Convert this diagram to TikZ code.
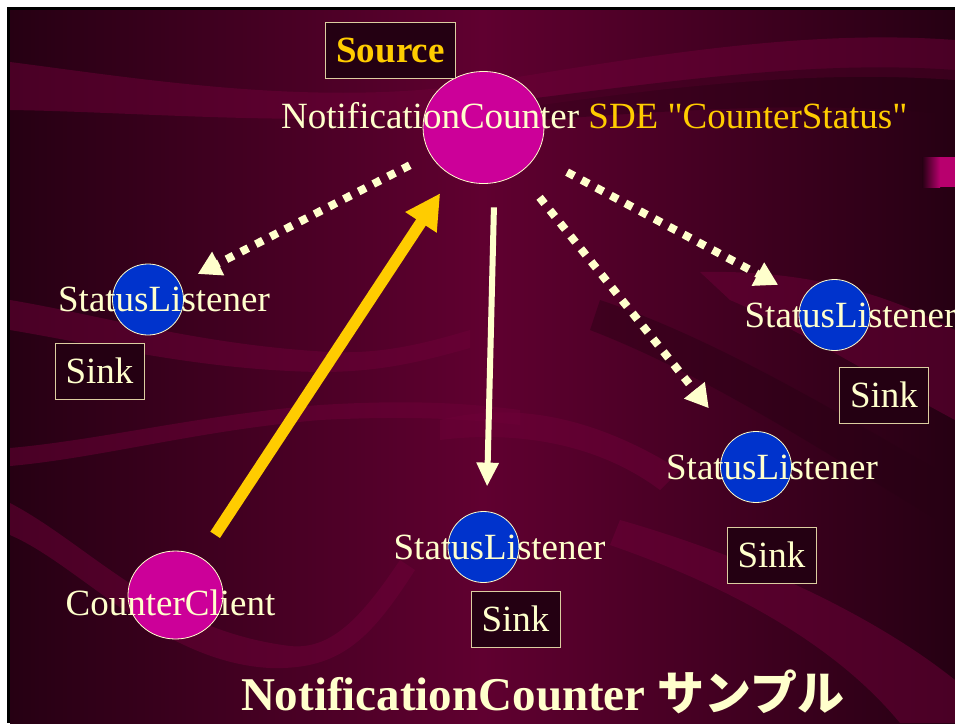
\documentclass[tikz,border=0pt]{standalone}
\usepackage{fontspec}
\setmainfont{Liberation Serif}
\newfontfamily\jpfont{Noto Sans CJK JP}
\usepackage{xcolor}
\definecolor{slidedark}{RGB}{38,0,19}
\definecolor{slidemid}{RGB}{96,0,48}
\definecolor{bandlight}{RGB}{110,0,56}
\definecolor{banddark}{RGB}{40,0,20}
\definecolor{stripmag}{RGB}{184,0,110}
\definecolor{nodemagenta}{RGB}{204,0,153}
\definecolor{nodeblue}{RGB}{0,51,204}
\definecolor{textcream}{RGB}{255,255,204}
\definecolor{textyellow}{RGB}{255,204,0}
\definecolor{boxfill}{RGB}{36,0,18}
\definecolor{boxline}{RGB}{220,205,160}
\newcommand\labelsize{\fontsize{37}{40}\selectfont}
\newcommand\titlesize{\fontsize{47}{50}\selectfont}
\usetikzlibrary{arrows.meta, shapes.geometric}

\begin{document}
\begin{tikzpicture}[x=1pt, y=-1pt,
  listener/.style={circle, fill=nodeblue, draw=textcream, line width=0.8pt, minimum size=71pt, inner sep=0pt},
  component/.style={ellipse, fill=nodemagenta, draw=textcream, line width=0.8pt, inner sep=0pt},
  caption/.style={text=textcream, font=\labelsize, inner sep=0pt},
  rolebox/.style={fill=boxfill, draw=boxline, line width=0.8pt, font=\labelsize, text=textcream, minimum width=89pt, minimum height=56pt, inner sep=0pt},
  dotarrow/.style={textcream, line width=8pt, dash pattern=on 8pt off 8.5pt, -{Triangle[length=23pt, width=25pt]}},
  solidarrow/.style={textcream, line width=6pt, -{Triangle[length=24pt, width=21pt]}},
  callarrow/.style={textyellow, line width=11.5pt, -{Triangle[length=35pt, width=35pt]}},
  band/.style={fill=bandlight, fill opacity=0.5},
  shadowband/.style={fill=banddark, fill opacity=0.45}]
  \useasboundingbox (0,0) rectangle (955,723);

  % Slide background and frame
  \fill[white] (0,0) rectangle (955,723);
  \fill[black] (7,7) rectangle (955,723);
  \shade[left color=slidedark, right color=slidedark, middle color=slidemid] (10,10) rectangle (955,723);

  % Swirl bands
  \begin{scope}
    \clip (10,10) rectangle (955,723);
    \fill[band] (10,62) .. controls (150,80) and (330,110) .. (500,80) .. controls (680,50) and (820,30) .. (955,40)
      -- (955,80) .. controls (820,70) and (680,85) .. (520,108) .. controls (330,130) and (150,112) .. (10,110) -- cycle;
    \fill[shadowband] (520,100) .. controls (680,80) and (820,60) .. (955,70) -- (955,115) .. controls (820,100) and (680,110) .. (540,120) -- cycle;
    \fill[band] (10,300) .. controls (100,315) and (200,345) .. (330,352) .. controls (380,354) and (420,345) .. (470,330)
      -- (470,348) .. controls (420,362) and (380,372) .. (320,372) .. controls (200,370) and (100,345) .. (10,330) -- cycle;
    \fill[band] (10,448) .. controls (100,440) and (200,415) .. (320,405) .. controls (400,400) and (460,402) .. (520,410)
      -- (520,425) .. controls (460,418) and (400,416) .. (320,420) .. controls (200,430) and (100,458) .. (10,466) -- cycle;
    \fill[band] (10,503) .. controls (90,545) and (160,630) .. (290,646) .. controls (330,650) and (360,620) .. (400,560)
      -- (415,570) .. controls (370,640) and (340,670) .. (270,668) .. controls (160,662) and (80,565) .. (10,535) -- cycle;
    \fill[band] (440,420) .. controls (520,400) and (600,420) .. (680,470) -- (660,490) .. controls (600,445) and (520,430) .. (440,440) -- cycle;
    \fill[band] (700,272) .. controls (800,270) and (880,290) .. (955,330) -- (955,420) .. controls (880,380) and (800,330) .. (730,300) -- cycle;
    \fill[shadowband] (600,300) .. controls (720,340) and (850,420) .. (955,480) -- (955,530) .. controls (850,470) and (720,380) .. (590,330) -- cycle;
    \fill[band] (620,520) .. controls (760,560) and (880,620) .. (955,680) -- (955,723) -- (900,723) .. controls (840,650) and (740,590) .. (610,545) -- cycle;
    \shade[left color=slidedark, right color=stripmag] (922,157) rectangle (940,187);
    \fill[stripmag] (940,157) rectangle (955,187);
  \end{scope}

  % Source side
  \node[component, minimum width=121pt, minimum height=112pt] (nc) at (483.5,127.5) {};
  \node[rolebox, minimum width=130pt, text=textyellow, font=\labelsize\bfseries] (src) at (390.5,50) {Source};
  \node[caption, anchor=base west] (nclabel) at (281,128)
    {NotificationCounter {\color{textyellow}SDE \textquotedbl CounterStatus\textquotedbl}};

  % Client
  \node[component, minimum width=95pt, minimum height=88pt] (cc) at (175.5,595) {};
  \node[caption] (cclabel) at (170.5,602.5) {CounterClient};

  % Listeners with their sink boxes
  \node[listener] (sl1) at (148,299.5) {};
  \node[listener] (sl2) at (834.5,315) {};
  \node[listener] (sl3) at (756,467) {};
  \node[listener] (sl4) at (483.5,547) {};
  \foreach \n in {sl1,sl2,sl3,sl4}
    \node[caption] (\n label) at ([xshift=16pt]\n.center) {StatusListener};
  \node[rolebox] (sink1) at (99.5,371) {Sink};
  \node[rolebox] (sink2) at (884,395) {Sink};
  \node[rolebox] (sink3) at (771.5,555) {Sink};
  \node[rolebox] (sink4) at (515.5,619) {Sink};

  % Event flow
  \draw[dotarrow, shorten <=23pt, shorten >=20pt] (nc) -- (sl1);
  \draw[dotarrow, shorten <=35pt, shorten >=28pt] (nc) -- (sl2);
  \draw[dotarrow, shorten <=31.5pt, shorten >=39.5pt] (nc) -- (sl3);
  \draw[solidarrow, shorten <=23.5pt, shorten >=24.5pt] ([xshift=11pt]nc.south) -- ([xshift=3pt]sl4.north);
  \draw[callarrow, shorten <=26.7pt, shorten >=21pt] (cc) -- (nc);

  % Title
  \node[text=textcream, font=\titlesize\bfseries, anchor=base, inner sep=0pt] (title) at (542.5,710)
    {NotificationCounter {\jpfont\bfseries サンプル}};
\end{tikzpicture}
\end{document}
